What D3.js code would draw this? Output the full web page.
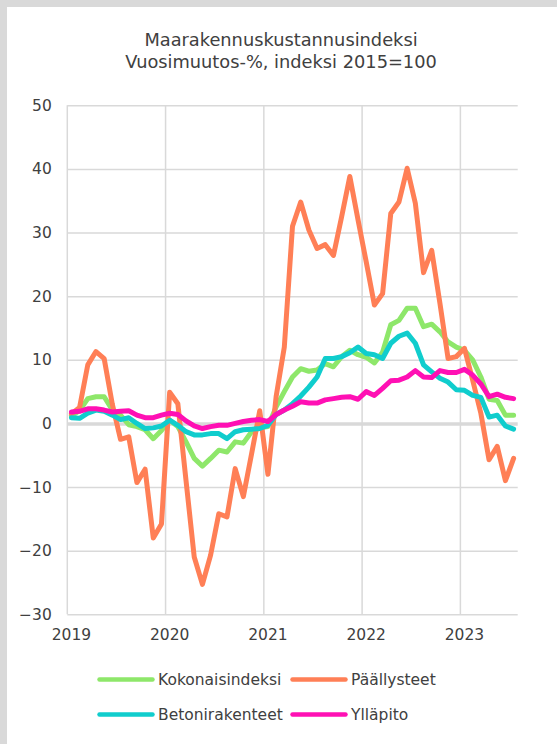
<!DOCTYPE html>
<html>
<head>
<meta charset="utf-8">
<script src="https://cdn.jsdelivr.net/npm/d3@7"></script>
<style>
  body { margin: 0; background: #fff; }
  text { font-family: "DejaVu Sans", Verdana, sans-serif; fill: #404040; }
</style>
</head>
<body>
<svg id="chart" width="557" height="744"></svg>
<script>
// monthly categories Jan 2019 .. Jul 2023
const months = d3.timeMonth.range(new Date(2019, 0, 1), new Date(2023, 7, 1));
const yearTicks = ['2019', '2020', '2021', '2022', '2023'];
const yTicks = [-30, -20, -10, 0, 10, 20, 30, 40, 50];

const seriesNames = ['Kokonaisindeksi', 'Päällysteet', 'Betonirakenteet', 'Ylläpito'];
const seriesColors = ['#8ee76a', '#ff7f56', '#10cdcd', '#ff10b4'];

const kokonaisindeksi = [1.2, 2.0, 3.9, 4.2, 4.2, 2.1, 1.3, -0.2, -0.5, -1.0, -2.4, -1.1,
  0.5, -0.5, -2.9, -5.5, -6.7, -5.5, -4.2, -4.5, -2.9, -3.1, -1.3, -0.7,
  -0.5, 2.6, 5.0, 7.3, 8.6, 8.2, 8.4, 9.4, 8.9, 10.5, 11.5, 10.8,
  10.4, 9.5, 11.2, 15.5, 16.2, 18.1, 18.1, 15.2, 15.6, 14.4, 12.8, 12.0,
  11.5, 10.0, 7.3, 3.8, 3.6, 1.3, 1.3];
const paallysteet = [1.5, 2.5, 9.2, 11.3, 10.2, 3.0, -2.5, -2.1, -9.3, -7.2, -18.0, -15.8,
  4.9, 3.1, -9.0, -21.0, -25.3, -20.7, -14.2, -14.7, -7.1, -11.5, -4.8, 2.0,
  -8.0, 4.2, 12.0, 31.0, 34.8, 30.4, 27.5, 28.1, 26.4, 32.5, 38.8, 32.0,
  25.4, 18.6, 20.4, 33.0, 34.8, 40.1, 34.6, 23.7, 27.2, 18.9, 10.2, 10.5,
  11.8, 6.8, 1.6, -5.7, -3.6, -9.0, -5.5];
const betonirakenteet = [0.9, 0.8, 1.6, 2.1, 1.9, 1.3, 0.6, 0.9, 0.0, -0.8, -0.7, -0.4,
  0.5, -0.3, -1.3, -1.8, -1.8, -1.6, -1.6, -2.4, -1.3, -1.0, -0.9, -0.8,
  -0.3, 1.4, 2.1, 3.1, 4.3, 5.7, 7.3, 10.2, 10.2, 10.5, 11.1, 12.0,
  11.0, 10.8, 10.2, 12.6, 13.7, 14.2, 12.6, 9.2, 8.1, 7.1, 6.5, 5.3,
  5.2, 4.4, 4.1, 1.0, 1.3, -0.4, -0.9];
const yllapito = [1.8, 1.9, 2.3, 2.3, 2.1, 1.8, 1.9, 2.0, 1.3, 0.9, 0.9, 1.3,
  1.6, 1.4, 0.4, -0.4, -0.8, -0.5, -0.3, -0.3, 0.0, 0.3, 0.5, 0.6,
  0.3, 1.4, 2.1, 2.7, 3.4, 3.2, 3.2, 3.7, 3.9, 4.1, 4.2, 3.8,
  5.0, 4.4, 5.5, 6.7, 6.8, 7.3, 8.3, 7.3, 7.2, 8.3, 8.0, 8.0,
  8.5, 7.6, 6.2, 4.2, 4.6, 4.1, 3.9];

const seriesValues = [kokonaisindeksi, paallysteet, betonirakenteet, yllapito];

const svg = d3.select('#chart');
const width = +svg.attr('width');
const height = +svg.attr('height');

// grey frame round the chart area (only top and left are visible in the crop)
svg.append('rect').attr('width', width).attr('height', height).attr('fill', '#d9d9d9');
svg.append('rect').attr('x', 7).attr('y', 7).attr('width', width - 7).attr('height', height - 7).attr('fill', '#fff');

const plot = {left: 67.3, right: 517.7, top: 105.3, bottom: 614.3};

const fmt = d3.timeFormat('%Y-%m');
const x = d3.scaleBand().domain(months.map(fmt)).range([plot.left, plot.right]).padding(0);
const y = d3.scaleLinear().domain([-30, 50]).range([plot.bottom, plot.top]);

// title
const title = svg.append('text')
    .attr('text-anchor', 'middle')
    .attr('font-size', 17.8);
title.append('tspan').attr('x', 281).attr('y', 46).text('Maarakennuskustannusindeksi');
title.append('tspan').attr('x', 281).attr('y', 68).text('Vuosimuutos-%, indeksi 2015=100');

// horizontal grid + y labels
const yAxis = svg.append('g')
    .attr('transform', `translate(${plot.left},0)`)
    .call(d3.axisLeft(y).tickValues(yTicks).tickSize(-(plot.right - plot.left)).tickPadding(15.5));
yAxis.select('.domain').remove();
yAxis.selectAll('line')
    .attr('stroke', '#d9d9d9')
    .attr('stroke-width', d => d === 0 ? 3.5 : 1.5);
yAxis.selectAll('text')
    .attr('font-size', 15.5)
    .attr('fill', '#404040')
    .attr('font-family', '"DejaVu Sans", Verdana, sans-serif');

// vertical grid at year boundaries
const janKeys = months.filter(m => m.getMonth() === 0).map(fmt);
svg.append('g')
    .selectAll('line')
    .data(janKeys)
    .enter()
    .append('line')
    .attr('x1', d => x(d))
    .attr('x2', d => x(d))
    .attr('y1', plot.top)
    .attr('y2', plot.bottom)
    .attr('stroke', '#d9d9d9')
    .attr('stroke-width', 1.5);

// year labels on the january categories
const xAxis = svg.append('g')
    .attr('transform', `translate(0,${plot.bottom})`)
    .call(d3.axisBottom(x).tickValues(janKeys).tickSize(0).tickPadding(14.5)
        .tickFormat((d, i) => yearTicks[i]));
xAxis.select('.domain').remove();
xAxis.selectAll('text')
    .attr('font-size', 15.5)
    .attr('fill', '#404040')
    .attr('font-family', '"DejaVu Sans", Verdana, sans-serif');

// series lines, drawn in legend order
const line = d3.line()
    .x((d, i) => x(fmt(months[i])) + x.bandwidth() / 2)
    .y(d => y(d))
    .curve(d3.curveLinear);

svg.append('g')
    .selectAll('path')
    .data(seriesValues)
    .enter()
    .append('path')
    .attr('d', d => line(d))
    .attr('fill', 'none')
    .attr('stroke', (d, i) => seriesColors[i])
    .attr('stroke-width', 5)
    .attr('stroke-linejoin', 'round')
    .attr('stroke-linecap', 'round');

// legend, two columns
const legend = svg.append('g')
    .selectAll('g')
    .data(seriesNames)
    .enter()
    .append('g')
    .attr('transform', (d, i) => `translate(${i % 2 === 0 ? 99.5 : 292.5},${i < 2 ? 679.5 : 714.5})`);

legend.append('line')
    .attr('x1', 0)
    .attr('x2', 53)
    .attr('stroke', (d, i) => seriesColors[i])
    .attr('stroke-width', 4.5)
    .attr('stroke-linecap', 'round');

legend.append('text')
    .attr('x', 58.5)
    .attr('dy', '0.35em')
    .attr('font-size', 15.5)
    .text(d => d);
</script>
</body>
</html>
